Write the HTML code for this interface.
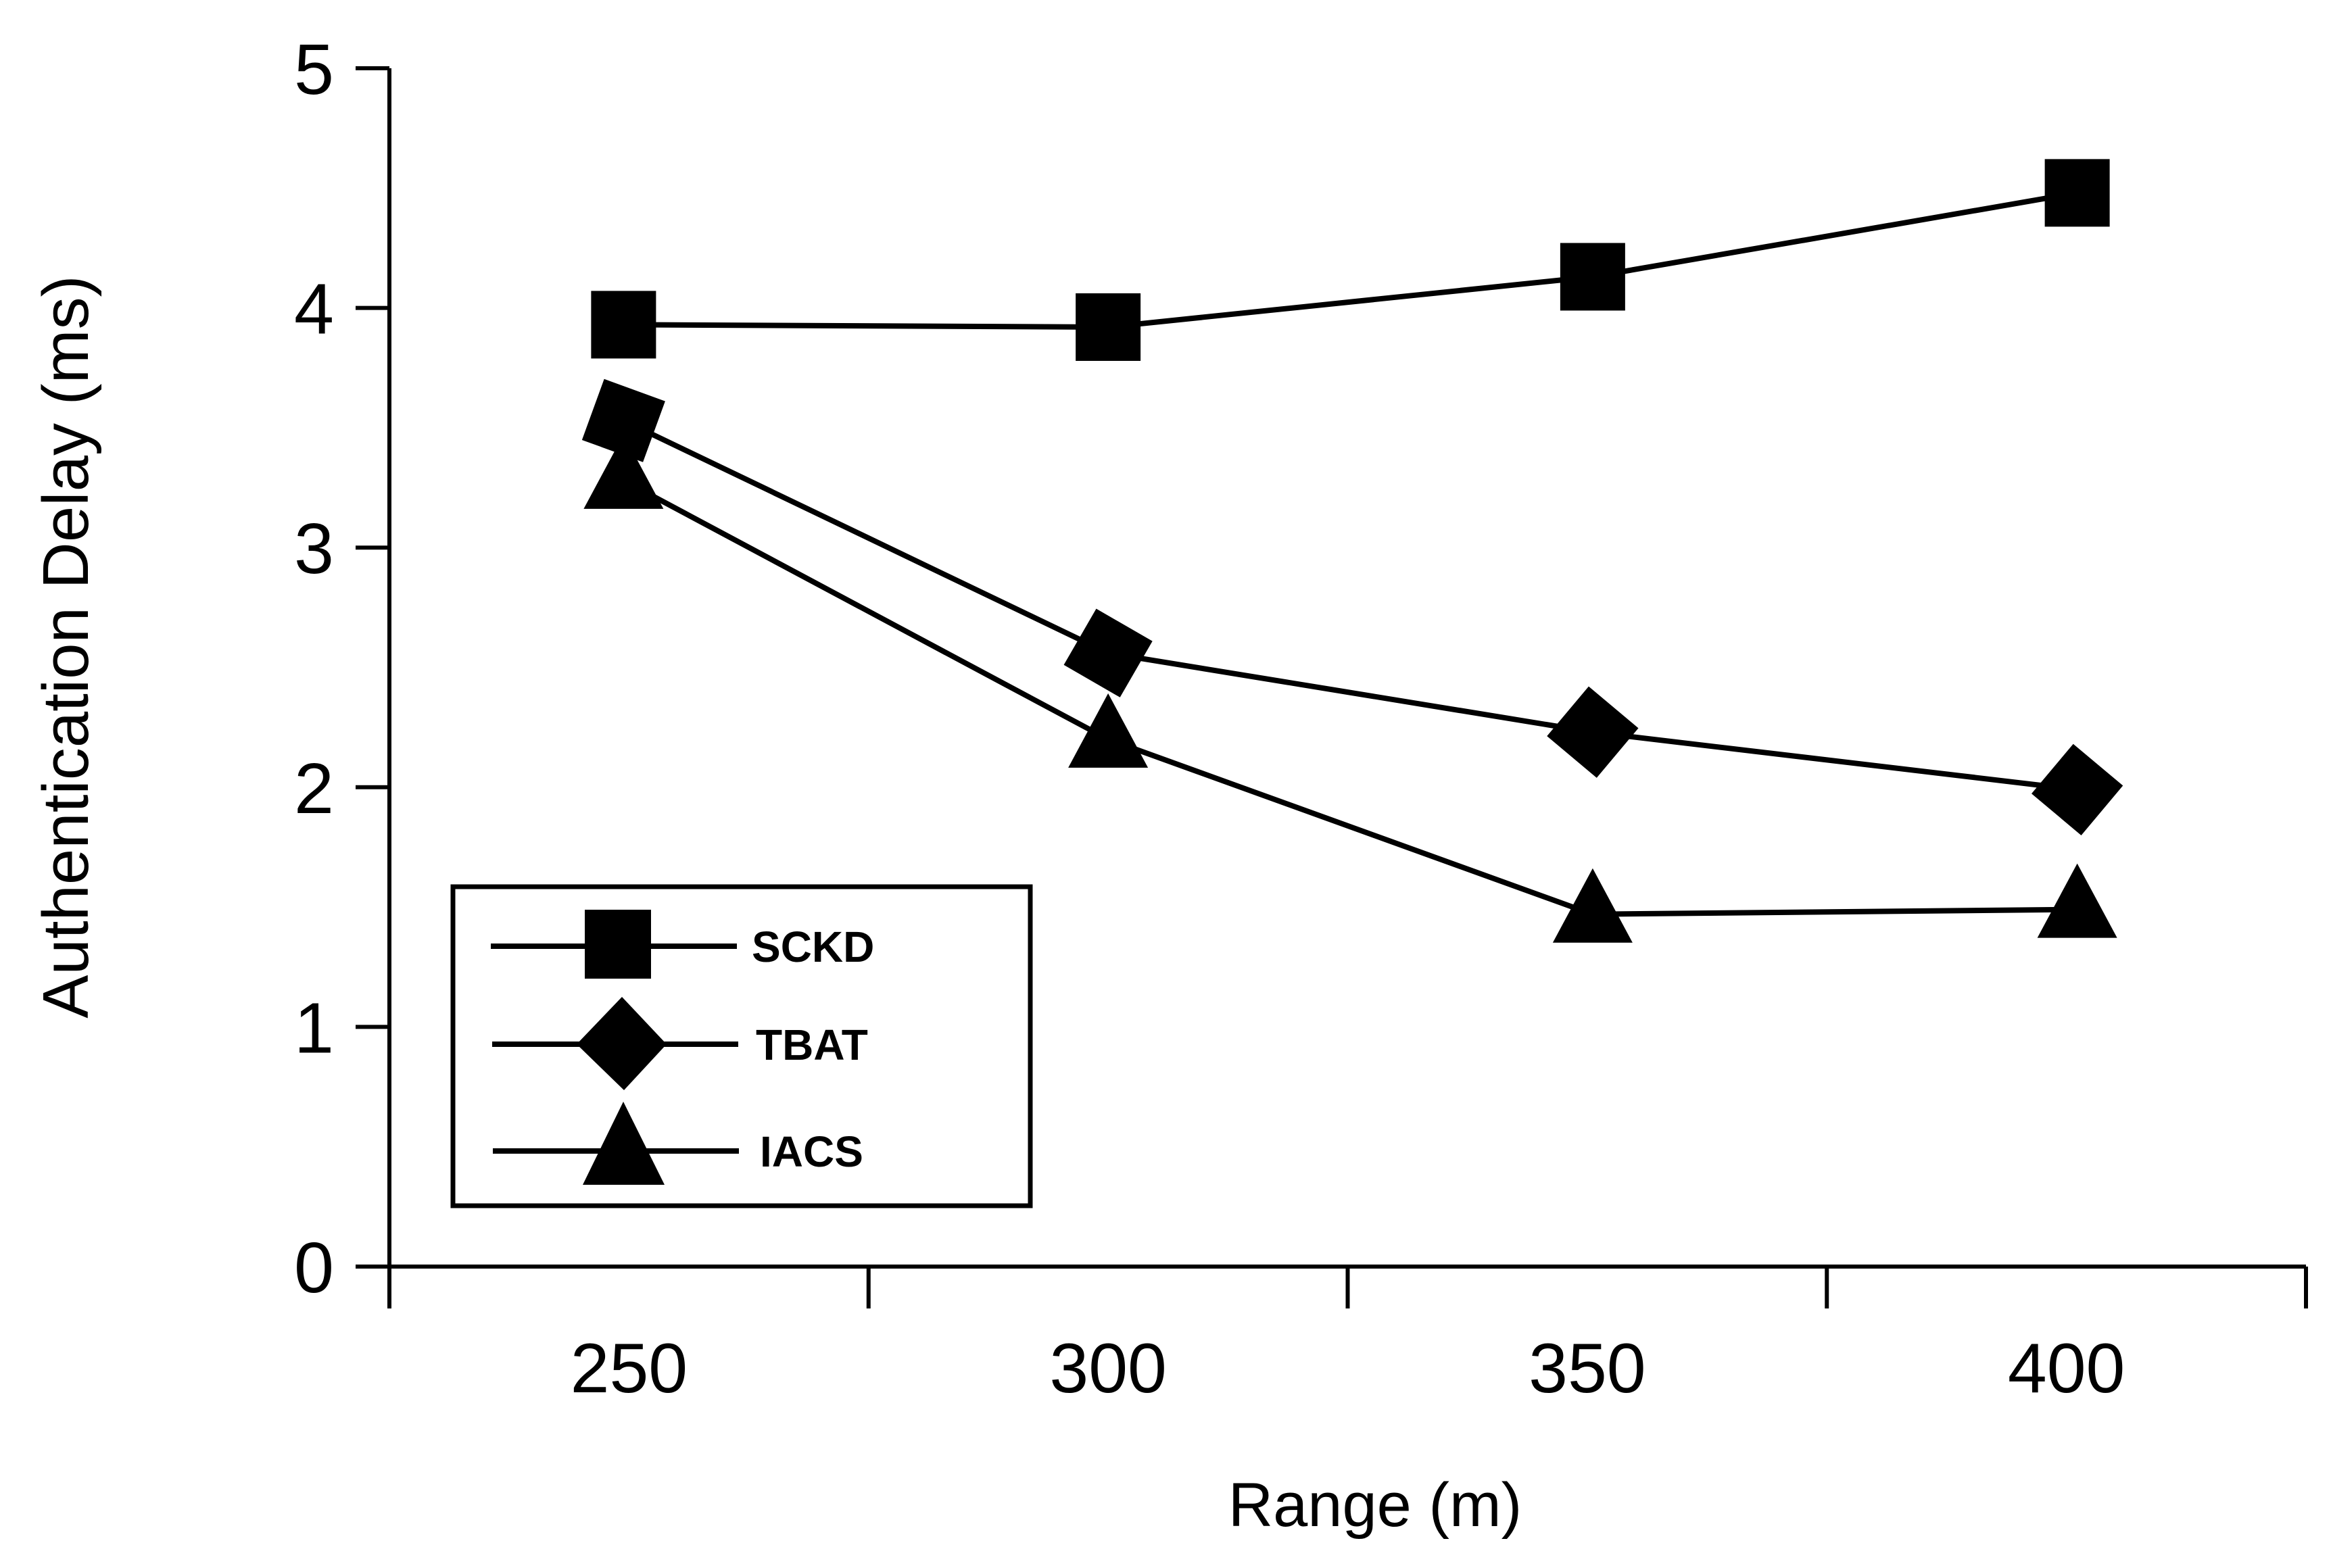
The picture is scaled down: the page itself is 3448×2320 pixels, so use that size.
<!DOCTYPE html>
<html><head><meta charset="utf-8">
<style>
html,body{margin:0;padding:0;background:#fff;}
svg{display:block;}
text{font-family:"Liberation Sans",sans-serif;fill:#000;}
</style></head>
<body>
<svg id="chart" width="3448" height="2320" viewBox="0 0 3448 2320" xmlns="http://www.w3.org/2000/svg">
<g id="axes"></g>
<g id="series"></g>
<g id="legend">
  <rect x="670" y="1312" width="854" height="472" fill="#fff" stroke="#000" stroke-width="7"/>
  <g>
    <line x1="726" y1="1400" x2="1090" y2="1400" stroke="#000" stroke-width="8"/>
    <rect x="865" y="1346" width="98" height="102" fill="#000"/>
    <text x="1112" y="1423" font-size="64" font-weight="bold">SCKD</text>
  </g>
  <g>
    <line x1="728" y1="1545" x2="1092" y2="1545" stroke="#000" stroke-width="8"/>
    <polygon points="920,1475 986,1545 923,1613 853,1545" fill="#000"/>
    <text x="1118" y="1568" font-size="64" font-weight="bold">TBAT</text>
  </g>
  <g>
    <line x1="729" y1="1703" x2="1093" y2="1703" stroke="#000" stroke-width="8"/>
    <polygon points="922,1630 983,1753 862,1753" fill="#000"/>
    <text x="1124" y="1726" font-size="64" font-weight="bold">IACS</text>
  </g>
</g>
</svg>
<script>
const categories = ["250", "300", "350", "400"];
const yTicks = [0, 1, 2, 3, 4, 5];
const sckdValues = [3.93, 3.92, 4.13, 4.48];
const tbatValues = [3.53, 2.56, 2.23, 1.99];
const iacsValues = [3.28, 2.2, 1.47, 1.49];

const NS = "http://www.w3.org/2000/svg";
const X0 = 576, X1 = 3411, Y0 = 1874, Y5 = 101;
const diamondRot = [20, 30, 40, 40];
function xBand(i){ const w=(X1-X0)/categories.length; return X0 + w*(i+0.5); }
function xPoint(i){ return xBand(i) - 8 + i*8; }
function yScale(v){ return Y0 - (v/5)*(Y0-Y5); }
function mk(tag, attrs, parent){
  const e=document.createElementNS(NS,tag);
  for(const k in attrs) e.setAttribute(k, attrs[k]);
  parent.appendChild(e); return e;
}
const axes=document.getElementById('axes');
const yAxis=mk('line',{x1:X0,y1:Y5,x2:X0,y2:Y0,stroke:'#000','stroke-width':6},axes);


const xAxis=mk('line',{x1:X0,y1:Y0,x2:X1,y2:Y0,stroke:'#000','stroke-width':6},axes);


yTicks.forEach(t=>{
  const y=yScale(t);
  const tk=mk('line',{x1:X0-50,y1:y,x2:X0,y2:y,stroke:'#000','stroke-width':6},axes);
  
  
  const lb=mk('text',{x:X0-82,y:y+38,'font-size':106,'text-anchor':'end'},axes);
  lb.textContent=t;
  
  
});
for(let i=0;i<=categories.length;i++){
  const x=X0+(X1-X0)/categories.length*i;
  const tk=mk('line',{x1:x,y1:Y0,x2:x,y2:Y0+62,stroke:'#000','stroke-width':6},axes);
  
  
}
categories.forEach((c,i)=>{
  const lb=mk('text',{x:xBand(i),y:2060,'font-size':104,'text-anchor':'middle'},axes);
  lb.textContent=c;
  
  
});
const xt=mk('text',{x:2034,y:2258,'font-size':92,'text-anchor':'middle'},axes);
xt.textContent='Range (m)';


const yt=mk('text',{x:0,y:0,'font-size':96,'text-anchor':'middle',transform:'translate(130,957) rotate(-90)'},axes);
yt.textContent='Authentication Delay (ms)';



const ser=document.getElementById('series');
function drawSeries(vals,name,shape){
  const g=mk('g',{},ser);
  
  
  const pts=vals.map((v,i)=>[xPoint(i),yScale(v)]);
  const pl=mk('polyline',{points:pts.map(p=>p.join(',')).join(' '),fill:'none',stroke:'#000','stroke-width':8,'stroke-linejoin':'round'},g);
  
  
  pts.forEach((p,i)=>{
    let m;
    if(shape==='square'){
      m=mk('rect',{x:p[0]-48,y:p[1]-50,width:96,height:100,fill:'#000'},g);
    } else if(shape==='diamond'){
      m=mk('rect',{x:p[0]-48,y:p[1]-48,width:96,height:96,fill:'#000',transform:`rotate(${diamondRot[i]} ${p[0]} ${p[1]})`},g);
    } else {
      m=mk('polygon',{points:`${p[0]},${p[1]-68} ${p[0]+59},${p[1]+42} ${p[0]-59},${p[1]+42}`,fill:'#000'},g);
    }
    
    
  });
}
drawSeries(sckdValues,'sckd','square');
drawSeries(tbatValues,'tbat','diamond');
drawSeries(iacsValues,'iacs','triangle');
</script>
</body></html>
